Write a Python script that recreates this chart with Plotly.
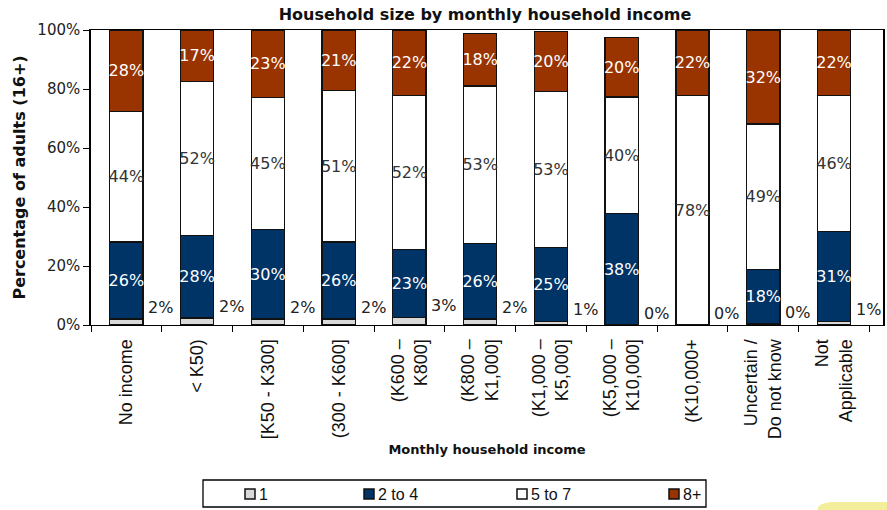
import plotly.graph_objects as go

# Monthly household income bands (x-axis categories)
categories = [
    "No income", "< K50)", "[K50 - K300]", "(300 - K600]",
    "(K600 –<br>K800]", "(K800 –<br>K1,000]", "(K1,000 –<br>K5,000]",
    "(K5,000 –<br>K10,000]", "(K10,000+", "Uncertain /<br>Do not know",
    "Not<br>Applicable",
]

# Share of adults (%) by household size
size_1 = [2.0, 2.4, 2.0, 2.0, 2.6, 2.0, 1.2, 0.0, 0.0, 0.3, 1.2]
size_2_4 = [26.1, 28.0, 30.3, 26.1, 23.1, 25.6, 25.1, 37.7, 0.0, 18.4, 30.6]
size_5_7 = [44.2, 52.1, 44.9, 51.3, 52.2, 53.4, 52.8, 39.6, 77.9, 49.4, 46.1]
size_8p = [27.7, 17.4, 22.8, 20.6, 22.1, 17.9, 20.3, 20.2, 22.1, 31.9, 22.1]

series_names = ["1", "2 to 4", "5 to 7", "8+"]
y_ticks = [0, 20, 40, 60, 80, 100]

LABEL_FONT = "DejaVu Sans"
W, H = 887, 510
M_L, M_R, M_T, M_B = 91, 4, 30, 185
plot_w = W - M_L - M_R
plot_h = H - M_T - M_B


def px_x(px):
    return (px - M_L) / plot_w


def px_y(py):
    return (H - M_B - py) / plot_h


def pct_labels(vals):
    return [f"{round(v)}%" if v >= 0.5 else "" for v in vals]


fills = ["#d9d9d9", "#003366", "white", "#993300"]
text_colors = [None, "white", "#333333", "white"]
values = [size_1, size_2_4, size_5_7, size_8p]

fig = go.Figure()
for name, vals, color, txtcolor in zip(series_names, values, fills, text_colors):
    fig.add_trace(go.Bar(
        name=name,
        x=categories,
        y=vals,
        width=0.47,
        marker=dict(color=color, line=dict(color="#111111", width=1.3)),
        text=pct_labels(vals) if txtcolor else None,
        textposition="inside" if txtcolor else "none",
        insidetextanchor="middle",
        textangle=0,
        constraintext="none",
        textfont=dict(family=LABEL_FONT, size=16, color=txtcolor or "black"),
        hoverinfo="skip",
        showlegend=False,
    ))

# Labels for the single-person segment sit just right of each bar
for cat, v in zip(categories, size_1):
    fig.add_annotation(
        x=cat, y=v + 4, xref="x", yref="y",
        text=f"{round(v)}%", showarrow=False,
        xanchor="left", yanchor="middle", xshift=20,
        font=dict(family=LABEL_FONT, size=16, color="#222222"),
    )

# Legend box with swatches and series names
fig.add_shape(type="rect", xref="paper", yref="paper",
              x0=px_x(203), x1=px_x(706), y0=px_y(507), y1=px_y(480),
              line=dict(color="black", width=1.3), fillcolor="white")
legend_x = [250, 369, 522, 674]
for lx, name, color in zip(legend_x, series_names, fills):
    fig.add_shape(type="rect", xref="paper", yref="paper",
                  x0=px_x(lx - 5), x1=px_x(lx + 5),
                  y0=px_y(499), y1=px_y(489),
                  line=dict(color="#111111", width=1.5), fillcolor=color)
    fig.add_annotation(x=px_x(lx + 7), y=px_y(494), xref="paper", yref="paper",
                       text=name, showarrow=False, xanchor="left", yanchor="middle",
                       font=dict(family="Liberation Sans", size=16, color="#111111"))

# faint yellow highlight in the lower-right corner
fig.add_shape(
    type="path", xref="paper", yref="paper",
    path=(f"M {px_x(818)},{px_y(511)} L {px_x(818)},{px_y(507)} "
          f"Q {px_x(822)},{px_y(502)} {px_x(835)},{px_y(502)} "
          f"L {px_x(888)},{px_y(502)} L {px_x(888)},{px_y(511)} Z"),
    fillcolor="#f3ee9c", line=dict(width=0), layer="above",
)

fig.update_layout(
    width=W, height=H, autosize=False,
    margin=dict(l=M_L, r=M_R, t=M_T, b=M_B, pad=0, autoexpand=False),
    paper_bgcolor="white", plot_bgcolor="white",
    barmode="stack",
    uniformtext=dict(minsize=16, mode="show"),
    title=dict(
        text="<b>Household size by monthly household income</b>",
        font=dict(family=LABEL_FONT, size=16, color="#111111"),
        x=px_x(485), xref="paper", xanchor="center",
        y=1 - 14 / H, yref="container", yanchor="middle",
    ),
    font=dict(family=LABEL_FONT, color="#222222"),
    showlegend=False,
    xaxis=dict(
        type="category",
        automargin=False,
        tickangle=-90,
        tickfont=dict(family="Liberation Sans", size=18, color="#111111"),
        ticks="outside", ticklen=6, tickcolor="black",
        tickson="boundaries",
        ticklabelstandoff=6,
        showline=True, linecolor="black", linewidth=1, mirror=True,
        showgrid=False,
        title=dict(text="<b>Monthly household income</b>",
                   font=dict(family=LABEL_FONT, size=13, color="#111111"),
                   standoff=6),
    ),
    yaxis=dict(
        range=[0, 100],
        automargin=False,
        tickvals=y_ticks,
        ticktext=[f"{t}%" for t in y_ticks],
        tickfont=dict(family=LABEL_FONT, size=15, color="#222222"),
        ticks="outside", ticklen=6, tickcolor="black",
        showline=True, linecolor="black", linewidth=1.5, mirror=True,
        showgrid=False, zeroline=False,
        title=dict(text="<b>Percentage of adults (16+)</b>",
                   font=dict(family=LABEL_FONT, size=16, color="#111111"),
                   standoff=8),
    ),
)

fig.write_html("out.html")
